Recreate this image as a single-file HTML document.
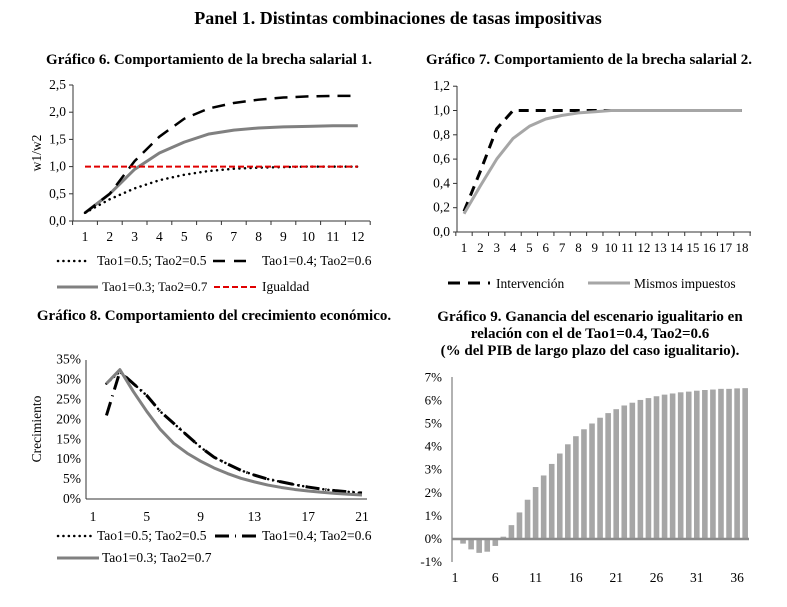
<!DOCTYPE html>
<html><head><meta charset="utf-8"><style>
body{margin:0;background:#fff}
svg{font-family:"Liberation Serif",serif;}
</style></head><body>
<svg id="s" width="787" height="602" xmlns="http://www.w3.org/2000/svg">
<text x="398" y="24" text-anchor="middle" font-size="18" font-weight="bold">Panel 1. Distintas combinaciones de tasas impositivas</text>
<text x="209" y="64" text-anchor="middle" font-size="15" font-weight="bold">Gráfico 6. Comportamiento de la brecha salarial 1.</text>
<text x="589" y="64" text-anchor="middle" font-size="15" font-weight="bold">Gráfico 7. Comportamiento de la brecha salarial 2.</text>
<text x="214" y="320" text-anchor="middle" font-size="15" font-weight="bold">Gráfico 8. Comportamiento del crecimiento económico.</text>
<text x="590" y="321" text-anchor="middle" font-size="15" font-weight="bold">Gráfico 9. Ganancia del escenario igualitario en</text>
<text x="590" y="338" text-anchor="middle" font-size="15" font-weight="bold">relación con el de Tao1=0.4, Tao2=0.6</text>
<text x="590" y="355" text-anchor="middle" font-size="15" font-weight="bold">(% del PIB de largo plazo del caso igualitario).</text>
<g id="g"></g>
</svg>
<script>
const g=document.getElementById('g');let h='';
function T(x,y,t,a='middle',fs=13.5){h+=`<text x="${x}" y="${y}" text-anchor="${a}" font-size="${fs}">${t}</text>`;}
function L(x1,y1,x2,y2,c='#000',w=1,d='',cap='butt'){h+=`<line x1="${x1}" y1="${y1}" x2="${x2}" y2="${y2}" stroke="${c}" stroke-width="${w}" ${d?`stroke-dasharray="${d}"`:''} stroke-linecap="${cap}"/>`;}
function P(pts,c,w,d='',cap='butt'){h+=`<polyline fill="none" points="${pts.map(p=>p.join(',')).join(' ')}" stroke="${c}" stroke-width="${w}" ${d?`stroke-dasharray="${d}"`:''} stroke-linecap="${cap}" stroke-linejoin="round"/>`;}
// Chart 6
{const ax=73,y0=221,sy=27.2/0.5,x1=85,dx=24.8;
L(ax,85,ax,y0,'#333');L(ax,y0,370,y0,'#333');
for(let i=0;i<=5;i++){const y=y0-i*27.2;L(ax-4,y,ax,y,'#333');T(ax-7,y+4,(i*0.5).toFixed(1).replace('.',','),'end');}
for(let i=0;i<=12;i++){const x=x1-dx/2+i*dx;L(x,y0,x,y0+4,'#333');}
for(let i=1;i<=12;i++)T(x1+(i-1)*dx,241,i);
h+=`<text transform="translate(41,153) rotate(-90)" text-anchor="middle" font-size="13.5">w1/w2</text>`;
const m=a=>a.map((v,i)=>[x1+i*dx,y0-v*sy]);
P(m([0.15,0.5,0.95,1.25,1.45,1.6,1.67,1.71,1.73,1.74,1.75,1.75]),'#808080',3);
P(m([0.15,0.5,1.1,1.55,1.88,2.07,2.17,2.23,2.27,2.29,2.3,2.3]),'#000',2.5,'13,8');
P(m([0.15,0.4,0.6,0.75,0.85,0.92,0.96,0.98,0.99,1,1,1]),'#000',2.5,'0.1,5.5','round');
P(m(Array(12).fill(1)),'#e00000',2,'6,3');
L(58,261,90,261,'#000',2.5,'0.1,5.3','round');
T(97,265,'Tao1=0.5; Tao2=0.5','start');
L(213,261,255,261,'#000',2.5,'12,9');T(262,265,'Tao1=0.4; Tao2=0.6','start');
L(57,287,98,287,'#808080',3);T(102,291,'Tao1=0.3; Tao2=0.7','start',13);
L(214,287,257,287,'#e00000',2,'6,3');T(262,291,'Igualdad','start');}
// Chart 7
{const ax=457,y0=232,sy=24.3/0.2,x1=464,dx=16.35;
L(ax,86,ax,y0,'#333');L(ax,y0,751,y0,'#333');
for(let i=0;i<=6;i++){const y=y0-i*24.3;L(ax-4,y,ax,y,'#333');T(ax-7,y+4,(i*0.2).toFixed(1).replace('.',','),'end');}
for(let i=0;i<=18;i++){const x=x1-dx/2+i*dx;L(x,y0,x,y0+4,'#333');}
for(let i=1;i<=18;i++)T(x1+(i-1)*dx,252,i,'middle',13);
const m=a=>a.map((v,i)=>[x1+i*dx,y0-v*sy]);
P(m([0.17,0.5,0.85,1,1,1,1,1,1,1,1,1,1,1,1,1,1,1]),'#000',3,'10,7');
P(m([0.15,0.38,0.6,0.77,0.87,0.93,0.96,0.98,0.99,1,1,1,1,1,1,1,1,1]),'#a6a6a6',3);
L(448,283,490,283,'#000',3,'12,8');T(496,288,'Intervención','start');
L(588,283,630,283,'#a6a6a6',3);T(634,288,'Mismos impuestos','start');}
// Chart 8
{const ax=86,y0=499,sy=19.9/5,x1=93,dx=13.45;
L(ax,360,ax,y0,'#333');L(ax,y0,367,y0,'#333');
for(let i=0;i<=7;i++){const y=y0-i*19.9;T(ax-5,y+4,(i*5)+'%','end');}
for(let i=1;i<=21;i+=4)T(x1+(i-1)*dx,521,i);
h+=`<text transform="translate(41,429) rotate(-90)" text-anchor="middle" font-size="13.5">Crecimiento</text>`;
const m=(a,s)=>a.map((v,i)=>[x1+(i+s-1)*dx,y0-v*sy]);
const base=[32,29,26,22,19,16,13,10.5,8.8,7.2,6,5,4.3,3.6,3,2.5,2.1,1.8,1.5];
P(m([29,...base],2),'#000',2.5,'0.1,5','round');
P(m([21,...base],2),'#000',3,'14,6,1,6');
P(m([29,32.5,27,22,17.5,14,11.5,9.5,7.8,6.4,5.2,4.3,3.5,2.9,2.4,2,1.7,1.4,1.2,1.0],2),'#808080',3);
L(58,536,91,536,'#000',2.5,'0.1,5.3','round');
T(97,540,'Tao1=0.5; Tao2=0.5','start');
L(215,536,256,536,'#000',3,'14,6,1,6');T(262,540,'Tao1=0.4; Tao2=0.6','start');
L(57,558,99,558,'#808080',3);T(102,562,'Tao1=0.3; Tao2=0.7','start');}
// Chart 9
{const ax=452,y0=539,s1=23.1,x1=455,dx=8.06;
const v=[0,-0.2,-0.45,-0.6,-0.55,-0.3,0.1,0.6,1.15,1.7,2.25,2.75,3.25,3.7,4.1,4.45,4.75,5.0,5.25,5.45,5.62,5.78,5.9,6.02,6.1,6.18,6.25,6.3,6.35,6.38,6.42,6.45,6.47,6.5,6.5,6.52,6.53];
v.forEach((d,i)=>{const x=x1+i*dx-2.8;const y=d>=0?y0-d*s1:y0;h+=`<rect x="${x}" y="${y}" width="5.6" height="${Math.abs(d)*s1}" fill="#a6a6a6"/>`;});
L(ax,377,ax,562,'#666');L(ax,y0,749,y0,'#8c8c8c',2.5);
for(let i=-1;i<=7;i++){const y=y0-i*s1;T(ax-10,y+4,i+'%','end',13);}
for(let i=1;i<=36;i+=5)T(x1+(i-1)*dx,582,i,'middle',13.5);}
g.innerHTML=h;
</script>
</body></html>
